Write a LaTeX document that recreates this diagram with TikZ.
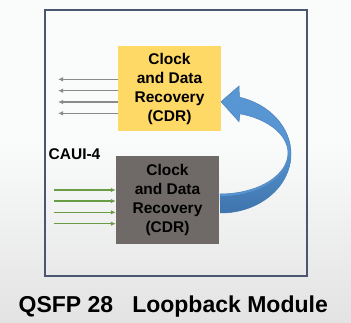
\documentclass[tikz,border=0pt]{standalone}
\usepackage{fontspec}
\setmainfont{Liberation Sans}
\usetikzlibrary{arrows.meta}
\definecolor{cdryellow}{HTML}{FFD966}
\definecolor{cdrgray}{HTML}{6F6A68}
\definecolor{frameblue}{HTML}{4B5670}
\definecolor{outgray}{HTML}{8A8A8A}
\definecolor{ingreen}{HTML}{6A9B45}
\definecolor{loopA}{HTML}{5796D2}
\definecolor{loopC}{HTML}{3F74AC}
\definecolor{loopEdge}{HTML}{4A80BC}
\definecolor{bgtop}{HTML}{FAFBFB}
\definecolor{bgbot}{HTML}{E3E3E3}
\tikzset{
  cdrbox/.style={draw=none, minimum width=103pt, minimum height=86pt, inner sep=0pt,
    align=center, font=\bfseries\fontsize{15.5}{19}\selectfont, text=black},
  outarrow/.style={draw=outgray, line width=1.3pt, -{Latex[length=5pt,width=4.5pt]}},
  inarrow/.style={draw=ingreen, line width=1.3pt, -{Latex[length=5pt,width=4.5pt]}},
}
\begin{document}
\begin{tikzpicture}[x=1pt,y=-1pt]
\useasboundingbox (0,0) rectangle (351,322);
% background
\fill[bgtop] (0,0) rectangle (351,140);
\shade[top color=bgtop, bottom color=bgbot] (0,140) rectangle (351,322);
% module frame
\node[draw=frameblue, line width=2.2pt, minimum width=262pt, minimum height=266pt, inner sep=0pt] (module) at (176,143) {};
% CDR boxes
\node[cdrbox, fill=cdryellow, minimum height=85pt] (top) at (169.5,88.5) {Clock\\and Data\\Recovery\\(CDR)};
\node[cdrbox, fill=cdrgray, minimum height=88pt] (bot) at (167.5,200) {Clock\\and Data\\Recovery\\(CDR)};
% CAUI-4 label
\node[anchor=base west, inner sep=0pt, font=\bfseries\fontsize{15.5}{18}\selectfont] (caui) at (48.5,159) {CAUI-4};
% output arrows (gray)
\foreach \i/\y in {1/79.3,2/90.7,3/102,4/113.3}{
  \coordinate (o\i) at (58,\y);
  \draw[outarrow] (top.west |- o\i) -- (o\i);
}
% input arrows (green)
\foreach \i/\y in {1/190,2/201,3/212.3,4/223.7}{
  \coordinate (g\i) at (54,\y);
  \draw[inarrow] (g\i) -- (bot.west |- g\i);
}
% loopback curved arrow: lighter upper part, darker lower part
\filldraw[fill=loopA, draw=loopEdge, line width=0.5pt]
  (220.5,213) arc[start angle=90, end angle=-74.4, x radius=70.5, y radius=59]
  -- (239,86) -- (221,101.7) -- (239,121.7) -- (240,113.8)
  arc[start angle=-72.9, end angle=90, x radius=68, y radius=41] -- cycle;
\begin{scope}
  \clip (200,155) rectangle (300,220);
  \shade[top color=loopA, bottom color=loopC]
    (220.5,213) arc[start angle=90, end angle=-10, x radius=70.5, y radius=59]
    -- (292,148) -- (287,148)
    arc[start angle=-10, end angle=90, x radius=68, y radius=41] -- cycle;
\end{scope}
% title
\node[anchor=base west, inner sep=0pt, font=\bfseries\fontsize{23}{27}\selectfont] (title) at (18.5,312.3) {QSFP 28\hspace{19pt}Loopback Module};
\end{tikzpicture}
\end{document}
